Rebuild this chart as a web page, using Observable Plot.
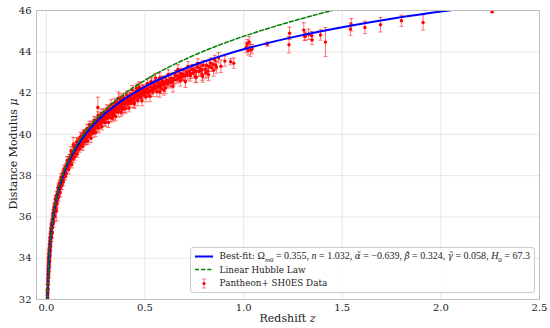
<!DOCTYPE html>
<html><head><meta charset="utf-8">
<script src="https://cdn.jsdelivr.net/npm/d3@7"></script>
<script src="https://cdn.jsdelivr.net/npm/@observablehq/plot@0.6"></script>
<style>
body{margin:0;background:#fff;}
#wrap{position:relative;width:550px;height:328px;font-family:"DejaVu Serif",serif;}
#legend{position:absolute;right:15px;top:247px;padding:2px 4px 2px 4px;border:1px solid #cccccc;border-radius:3px;background:rgba(255,255,255,0.85);font-size:8.8px;color:#222;}
.row{display:flex;align-items:center;height:13.3px;white-space:nowrap;}
.row svg{margin-right:7px;flex:none;}
.m{font-family:"Liberation Serif",serif;font-size:10px;}
.m sub{font-size:7px;}
.g{font-family:"DejaVu Serif",serif;font-style:italic;font-size:8.8px;}
</style></head>
<body><div id="wrap"></div>
<script>
// Pantheon+ SH0ES supernovae: redshift, distance modulus, error
const snZ = [
0.0050,0.0055,0.0060,0.0062,0.0068,0.0072,0.0075,0.0080,0.0083,0.0088,0.0090,0.0094,0.0097,
0.0102,0.0105,0.0108,0.0112,0.0115,0.0118,0.0121,0.0124,0.0127,0.0130,0.0133,0.0136,0.0140,0.0143,0.0147,0.0150,0.0154,0.0158,0.0162,0.0166,0.0170,0.0174,0.0178,0.0182,0.0186,0.0190,0.0195,0.0200,0.0205,0.0211,0.0217,0.0223,0.0230,0.0237,0.0244,0.0251,0.0260,0.0268,0.0277,0.0286,0.0295,
0.0310,0.0318,0.0326,0.0335,0.0344,0.0353,0.0362,0.0372,0.0382,0.0392,0.0402,0.0413,0.0424,0.0435,0.0446,0.0458,0.0470,0.0482,0.0495,0.0508,0.0520,0.0521,0.0535,0.0549,0.0563,0.0578,0.0593,0.0608,0.0624,0.0640,0.0657,0.0674,0.0691,0.0709,0.0727,0.0745,0.0764,0.0783,0.0803,0.0823,0.0843,0.0864,0.0885,0.0906,0.0928,0.0950,0.0973,0.0990,
0.102,0.104,0.106,0.108,0.110,0.112,0.114,0.116,0.118,0.120,0.122,0.124,0.126,0.128,0.130,0.132,0.134,0.136,0.138,0.140,0.142,0.144,0.146,0.148,0.150,0.152,0.154,0.156,0.158,0.160,0.162,0.164,0.166,0.168,0.170,0.172,0.174,0.176,0.178,0.180,0.182,0.184,0.186,0.188,0.190,0.192,0.194,0.196,0.198,
0.201,0.203,0.205,0.207,0.209,0.211,0.213,0.215,0.217,0.219,0.221,0.223,0.225,0.227,0.229,0.231,0.233,0.235,0.237,0.239,0.241,0.243,0.245,0.247,0.249,0.251,0.253,0.255,0.257,0.259,0.261,0.263,0.265,0.267,0.269,0.271,0.273,0.275,0.277,0.279,0.281,0.283,0.285,0.287,0.289,0.291,0.293,0.295,0.297,0.299,
0.302,0.305,0.308,0.311,0.314,0.317,0.320,0.323,0.326,0.329,0.332,0.335,0.338,0.341,0.344,0.347,0.350,0.353,0.356,0.359,0.362,0.365,0.368,0.371,0.374,0.377,0.380,0.383,0.386,0.389,0.392,0.395,0.398,0.340,0.385,
0.403,0.407,0.411,0.415,0.419,0.423,0.427,0.431,0.435,0.439,0.443,0.447,0.451,0.455,0.459,0.463,0.467,0.471,0.475,0.479,0.483,0.487,0.491,0.495,0.499,0.445,0.470,
0.503,0.508,0.513,0.518,0.523,0.528,0.533,0.538,0.543,0.548,0.553,0.558,0.563,0.568,0.573,0.578,0.583,0.588,0.593,0.598,0.530,0.575,
0.603,0.609,0.615,0.621,0.627,0.633,0.639,0.645,0.651,0.657,0.663,0.669,0.675,0.681,0.687,0.693,0.698,
0.703,0.710,0.717,0.724,0.731,0.738,0.745,0.752,0.759,0.766,0.773,0.780,0.787,0.794,0.760,0.790,
0.805,0.812,0.818,0.825,0.837,0.845,0.854,0.862,0.873,0.934,
1.013,1.018,1.023,1.028,1.035,1.043,1.120,1.230,1.233,1.305,1.308,1.313,1.330,1.345,1.347,1.390,1.415,1.542,1.546,1.615,1.694,1.800,1.910,2.260
];
const snMu = [
32.05,32.20,32.05,32.45,32.30,32.75,32.55,32.95,32.70,33.10,32.85,33.25,33.05,
33.45,33.20,33.55,33.35,33.70,33.50,33.80,33.60,33.95,33.70,34.00,33.85,34.15,33.90,34.25,34.05,34.35,34.15,34.45,34.25,34.55,34.35,34.65,34.45,34.78,34.55,34.85,34.70,35.00,34.80,35.12,34.95,35.22,35.05,35.35,35.15,35.45,35.30,35.60,35.45,35.72,
35.80,35.65,35.92,35.78,36.05,35.90,36.15,35.98,36.28,36.12,36.40,36.25,36.50,36.35,36.62,36.48,36.70,36.55,36.85,36.70,36.30,36.95,36.80,37.05,36.90,37.18,37.02,37.30,37.15,37.40,37.25,37.52,37.35,37.62,37.45,37.75,37.58,37.85,37.70,37.95,37.80,38.08,37.92,38.20,38.05,38.30,38.15,38.45,
38.35,38.50,38.40,38.62,38.48,38.70,38.45,38.78,38.62,38.88,38.72,38.95,38.78,39.10,38.85,39.08,38.95,39.50,39.05,39.22,39.08,39.30,39.05,39.38,39.22,39.45,39.28,39.50,39.35,39.66,39.42,39.62,39.48,39.72,39.55,39.75,39.48,39.82,39.65,39.88,39.72,39.92,39.62,40.00,39.82,40.05,39.88,40.10,39.92,
39.95,40.10,39.85,40.05,39.95,40.18,39.98,40.12,40.02,40.25,40.05,40.20,40.10,40.32,40.15,40.28,40.20,40.42,40.22,40.38,40.28,40.50,40.32,40.45,40.38,40.58,40.40,40.52,40.45,40.65,41.30,40.48,40.62,40.55,40.75,40.58,40.70,40.62,40.82,40.65,40.78,40.70,40.90,40.72,40.85,40.78,40.98,40.80,40.92,40.85,
40.95,41.08,40.88,41.05,40.95,41.15,40.98,41.10,41.02,41.25,41.05,41.20,41.10,41.35,41.12,41.28,41.20,41.45,41.22,41.38,41.28,41.75,41.30,41.48,41.38,41.62,41.40,41.55,41.45,41.70,41.48,41.62,41.52,40.90,41.20,
41.55,41.70,41.50,41.68,41.60,41.82,41.62,41.78,41.70,41.92,41.72,41.88,41.78,42.00,41.82,41.95,41.88,42.10,41.90,42.05,41.98,42.18,41.98,42.12,42.05,41.55,42.30,
42.05,42.20,42.00,42.15,42.10,42.30,42.12,42.25,42.20,42.42,42.22,42.35,42.28,42.50,42.30,42.45,42.38,42.60,42.40,42.52,42.55,42.05,
42.50,42.62,42.45,42.60,42.55,42.72,42.55,42.70,42.65,42.85,42.68,42.80,42.75,42.95,42.78,42.90,42.85,
42.85,43.00,42.88,43.05,42.95,43.15,42.98,43.12,43.05,43.25,43.05,43.20,43.12,43.35,42.75,42.90,
43.15,43.35,43.05,43.30,43.24,43.40,43.61,43.25,43.71,43.52,
44.21,44.37,44.05,44.48,44.08,44.13,44.37,44.34,44.90,45.05,44.81,44.75,44.85,44.78,44.57,44.81,44.47,45.10,45.31,45.18,45.31,45.50,45.42,45.94
];
const snErr = [
0.30,0.25,0.22,0.28,0.20,0.25,0.18,0.22,0.20,0.25,0.18,0.22,0.20,
0.20,0.18,0.22,0.17,0.20,0.16,0.22,0.18,0.20,0.17,0.19,0.16,0.20,0.18,0.17,0.19,0.18,0.16,0.20,0.17,0.18,0.16,0.19,0.17,0.18,0.16,0.19,0.15,0.18,0.16,0.17,0.15,0.17,0.15,0.16,0.14,0.16,0.14,0.16,0.15,0.15,
0.15,0.14,0.15,0.14,0.15,0.13,0.15,0.14,0.15,0.13,0.15,0.14,0.15,0.13,0.14,0.14,0.14,0.13,0.14,0.13,0.50,0.14,0.13,0.14,0.12,0.14,0.12,0.13,0.12,0.13,0.12,0.13,0.12,0.13,0.12,0.13,0.12,0.13,0.12,0.13,0.12,0.13,0.12,0.13,0.12,0.13,0.12,0.13,
0.13,0.14,0.12,0.14,0.12,0.15,0.12,0.14,0.12,0.15,0.12,0.14,0.13,0.15,0.12,0.14,0.13,0.35,0.13,0.14,0.12,0.15,0.13,0.14,0.12,0.15,0.13,0.14,0.12,0.15,0.13,0.14,0.12,0.15,0.13,0.14,0.12,0.15,0.13,0.14,0.12,0.15,0.13,0.14,0.12,0.15,0.13,0.14,0.12,
0.14,0.15,0.13,0.16,0.14,0.15,0.13,0.16,0.14,0.15,0.13,0.16,0.14,0.15,0.13,0.16,0.14,0.15,0.13,0.16,0.14,0.15,0.13,0.16,0.14,0.15,0.13,0.16,0.14,0.15,0.50,0.13,0.16,0.14,0.15,0.13,0.16,0.14,0.15,0.13,0.16,0.14,0.15,0.13,0.16,0.14,0.15,0.13,0.16,0.14,
0.16,0.18,0.15,0.20,0.16,0.18,0.15,0.20,0.16,0.18,0.15,0.20,0.16,0.18,0.15,0.20,0.16,0.18,0.15,0.20,0.16,0.30,0.15,0.20,0.16,0.18,0.15,0.20,0.16,0.18,0.15,0.20,0.16,0.22,0.25,
0.18,0.20,0.16,0.22,0.18,0.20,0.16,0.22,0.18,0.20,0.16,0.22,0.18,0.20,0.16,0.22,0.18,0.20,0.16,0.22,0.18,0.20,0.16,0.22,0.18,0.25,0.25,
0.20,0.22,0.18,0.24,0.20,0.22,0.18,0.24,0.20,0.22,0.18,0.24,0.20,0.22,0.18,0.24,0.20,0.22,0.18,0.24,0.25,0.25,
0.22,0.25,0.20,0.25,0.22,0.25,0.20,0.25,0.22,0.25,0.20,0.25,0.22,0.25,0.20,0.25,0.22,
0.25,0.22,0.25,0.22,0.25,0.22,0.25,0.22,0.25,0.22,0.25,0.22,0.25,0.22,0.25,0.28,
0.25,0.22,0.28,0.25,0.20,0.22,0.22,0.28,0.25,0.15,
0.25,0.22,0.20,0.25,0.30,0.22,0.10,0.40,0.30,0.35,0.25,0.20,0.25,0.20,0.22,0.25,0.70,0.30,0.30,0.30,0.35,0.27,0.37,0.05
];
// More scattered supernovae forming the width of the band
const snZ2 = [
0.0110,0.0125,0.0138,0.0152,0.0168,0.0180,0.0198,0.0215,0.0235,0.0255,0.0275,0.0300,0.0330,0.0360,0.0390,0.0420,0.0450,0.0480,0.0515,0.0550,0.0585,0.0620,0.0660,0.0700,0.0740,0.0780,0.0820,0.0860,0.0900,0.0950,
0.101,0.105,0.109,0.113,0.117,0.121,0.125,0.129,0.133,0.137,0.141,0.145,0.149,0.153,0.157,0.161,0.165,0.169,0.173,0.177,0.181,0.185,0.189,0.193,0.197,
0.202,0.206,0.210,0.214,0.218,0.222,0.226,0.230,0.234,0.238,0.242,0.246,0.250,0.254,0.258,0.262,0.266,0.270,0.274,0.278,0.282,0.286,0.290,0.294,0.298,
0.301,0.306,0.310,0.315,0.319,0.324,0.328,0.333,0.337,0.342,0.346,0.351,0.355,0.360,0.364,0.369,0.373,0.378,0.382,0.387,0.391,0.396,
0.402,0.408,0.413,0.419,0.424,0.430,0.435,0.441,0.446,0.452,0.457,0.463,0.468,0.474,0.479,0.485,0.490,0.496,
0.505,0.512,0.519,0.526,0.533,0.540,0.547,0.554,0.561,0.568,0.575,0.582,0.589,0.596,
0.605,0.618,0.630,0.642,0.655,0.667,0.679,0.692,0.705,0.718,0.730,0.742,0.755,0.768,0.780,0.792,
0.808,0.822,0.833,0.848,0.858,0.885,0.905,0.950
];
const snMu2 = [
33.82,33.35,34.24,33.83,34.69,34.13,35.01,34.56,35.46,35.02,35.68,35.23,36.17,35.73,36.47,36.02,36.87,36.40,37.06,36.65,37.42,36.95,37.64,37.17,37.92,37.52,38.11,37.69,38.34,37.97,
38.11,38.72,38.44,38.30,38.86,38.59,39.20,38.54,39.01,38.83,39.38,38.91,39.21,39.64,39.05,39.31,39.61,39.29,39.88,39.45,39.69,39.42,40.04,39.72,39.64,
39.69,40.29,39.68,40.08,40.47,39.96,39.81,40.48,40.18,40.05,40.69,40.38,40.09,40.66,40.33,40.91,40.30,40.68,40.50,41.01,40.37,40.72,41.04,40.59,40.75,
40.58,41.21,40.79,40.58,41.21,40.82,41.45,40.78,41.14,40.98,41.53,40.87,41.19,41.55,41.08,41.23,41.74,41.07,41.50,41.28,41.78,41.24,
41.25,41.91,41.47,41.28,41.91,41.51,42.16,41.69,41.47,41.93,42.23,41.63,41.89,42.25,41.80,41.63,42.21,41.94,
41.82,42.47,42.03,41.84,42.53,42.06,42.34,42.73,42.06,42.34,42.75,42.22,42.58,42.14,
42.25,42.90,42.50,42.33,42.85,43.15,42.60,42.85,42.55,43.29,42.84,43.13,42.79,43.44,43.08,42.80,
43.00,42.90,43.45,43.10,43.35,43.30,43.55,43.45
];
const snErr2 = [
0.22,0.25,0.20,0.24,0.21,0.26,0.19,0.23,0.20,0.22,0.18,0.24,0.19,0.22,0.18,0.21,0.17,0.20,0.18,0.21,0.17,0.19,0.16,0.20,0.17,0.19,0.16,0.18,0.17,0.18,
0.18,0.20,0.15,0.22,0.16,0.18,0.20,0.17,0.15,0.19,0.21,0.16,0.18,0.20,0.17,0.15,0.19,0.16,0.22,0.18,0.15,0.20,0.17,0.19,0.16,
0.18,0.20,0.16,0.22,0.17,0.19,0.21,0.16,0.18,0.20,0.17,0.23,0.19,0.16,0.20,0.18,0.22,0.17,0.19,0.21,0.16,0.18,0.20,0.17,0.19,
0.20,0.22,0.18,0.25,0.19,0.21,0.23,0.18,0.20,0.24,0.19,0.22,0.18,0.21,0.25,0.19,0.22,0.20,0.18,0.23,0.21,0.19,
0.22,0.20,0.25,0.19,0.23,0.21,0.20,0.24,0.22,0.19,0.21,0.25,0.20,0.23,0.22,0.24,0.19,0.21,
0.25,0.22,0.24,0.26,0.21,0.23,0.25,0.22,0.24,0.26,0.22,0.25,0.23,0.24,
0.26,0.23,0.25,0.28,0.24,0.22,0.26,0.25,0.28,0.23,0.26,0.24,0.27,0.22,0.25,0.28,
0.28,0.30,0.25,0.28,0.22,0.30,0.25,0.25
];

// Best-fit model curve
const fitZ = [0.005,0.006,0.0075,0.01,0.012,0.015,0.018,0.02,0.023,0.026,0.03,0.035,0.04,0.045,0.05,0.06,0.07,0.08,0.09,0.1,0.12,0.15,0.18,0.2,0.25,0.3,0.35,0.4,0.45,0.5,0.55,0.6,0.7,0.8,0.9,1.0,1.1,1.25,1.4,1.5,1.75,2.0,2.05];
const fitMu = [31.75,32.14,32.63,33.26,33.66,34.15,34.55,34.78,35.09,35.36,35.68,36.02,36.31,36.57,36.82,37.22,37.57,37.87,38.14,38.39,38.82,39.34,39.77,40.02,40.57,41.02,41.40,41.74,42.04,42.31,42.56,42.78,43.18,43.53,43.84,44.12,44.37,44.71,45.01,45.19,45.60,45.95,46.01];

// Linear Hubble law curve
const hubZ = [0.005,0.0075,0.01,0.015,0.02,0.03,0.05,0.075,0.1,0.15,0.2,0.3,0.4,0.5,0.6,0.7,0.8,0.9,1.0,1.1,1.2,1.3,1.4,1.5];
const hubMu = [31.75,32.64,33.27,34.16,34.79,35.69,36.85,37.78,38.45,39.43,40.15,41.20,41.99,42.62,43.16,43.62,44.04,44.41,44.75,45.06,45.35,45.62,45.88,46.11];

const xTicks = [0, 0.5, 1.0, 1.5, 2.0, 2.5];
const yTicks = [32, 34, 36, 38, 40, 42, 44, 46];

const rows = (zs, mus, errs) => zs.map((z, i) => ({z, mu: mus[i], err: errs[i]}));
const sn = rows(snZ, snMu, snErr).concat(rows(snZ2, snMu2, snErr2)).filter(d => d.mu != null && d.err != null);
const fit = fitZ.map((z, i) => ({z, mu: fitMu[i]}));
const hub = hubZ.map((z, i) => ({z, mu: hubMu[i]}));

const capSymbol = {draw(ctx, size) { const r = Math.sqrt(size / Math.PI); ctx.moveTo(-r, 0); ctx.lineTo(r, 0); }};

const chart = Plot.plot({
  width: 550, height: 328,
  marginTop: 10, marginRight: 11, marginBottom: 29, marginLeft: 36,
  style: {fontFamily: "DejaVu Serif", fontSize: "10px", color: "#222", background: "white", overflow: "visible"},
  x: {domain: [-0.05, 2.5], ticks: xTicks, tickFormat: d3.format(".1f"), tickSize: 0, tickPadding: 4, grid: true, label: null},
  y: {domain: [32, 46], ticks: yTicks, tickSize: 0, tickPadding: 5, grid: true, label: null},
  marks: [
    Plot.ruleX(sn, {x: "z", y1: d => d.mu - d.err, y2: d => d.mu + d.err, stroke: "red", strokeOpacity: 0.55, strokeWidth: 1, clip: true}),
    Plot.dot(sn, {x: "z", y: d => d.mu - d.err, symbol: capSymbol, r: 2, stroke: "red", strokeOpacity: 0.55, strokeWidth: 1, clip: true}),
    Plot.dot(sn, {x: "z", y: d => d.mu + d.err, symbol: capSymbol, r: 2, stroke: "red", strokeOpacity: 0.55, strokeWidth: 1, clip: true}),
    Plot.dot(sn, {x: "z", y: "mu", r: 1.7, fill: "red", stroke: "none", clip: true}),
    Plot.line(fit, {x: "z", y: "mu", stroke: "#0000ff", strokeWidth: 2, curve: "monotone-x", clip: true}),
    Plot.line(hub, {x: "z", y: "mu", stroke: "#008000", strokeWidth: 1.5, strokeDasharray: "4,2.2", curve: "monotone-x", clip: true}),
    Plot.frame({stroke: "#bdbdbd", strokeWidth: 1})
  ]
});

const wrap = document.getElementById("wrap");
wrap.appendChild(chart);
const svg = d3.select(chart);
svg.append("text").attr("transform", "translate(13,154) rotate(-90)").attr("text-anchor", "middle").attr("dy", "0.35em")
  .attr("font-size", 11).attr("fill", "#222").attr("font-family", "DejaVu Serif")
  .call(t => { t.append("tspan").text("Distance Modulus "); t.append("tspan").attr("font-style", "italic").text("μ"); });
svg.append("text").attr("x", 287.5).attr("y", 318).attr("text-anchor", "middle").attr("dy", "0.35em")
  .attr("font-size", 11).attr("fill", "#222").attr("font-family", "DejaVu Serif")
  .call(t => { t.append("tspan").text("Redshift "); t.append("tspan").attr("font-style", "italic").text("z"); });

const legend = document.createElement("div");
legend.id = "legend";
legend.innerHTML = `
<div class="row"><svg width="18" height="13"><line x1="0" x2="18" y1="6.5" y2="6.5" stroke="#0000ff" stroke-width="2"/></svg><span>Best-fit: <span class="m">Ω<sub><i>m</i>0</sub> = 0.355, <i>n</i> = 1.032, <span class="g">α̃</span> = −0.639, <span class="g">β̃</span> = 0.324, <span class="g">γ̃</span> = 0.058, <i>H</i><sub>0</sub> = 67.3</span></span></div>
<div class="row"><svg width="18" height="13"><line x1="0" x2="18" y1="6.5" y2="6.5" stroke="#008000" stroke-width="1.5" stroke-dasharray="4,2.2"/></svg><span>Linear Hubble Law</span></div>
<div class="row"><svg width="18" height="13"><line x1="9" x2="9" y1="2" y2="11" stroke="red" stroke-opacity="0.5"/><line x1="7" x2="11" y1="2" y2="2" stroke="red" stroke-opacity="0.5"/><line x1="7" x2="11" y1="11" y2="11" stroke="red" stroke-opacity="0.5"/><circle cx="9" cy="6.5" r="1.6" fill="red"/></svg><span>Pantheon+ SH0ES Data</span></div>`;
wrap.appendChild(legend);
</script></body></html>
